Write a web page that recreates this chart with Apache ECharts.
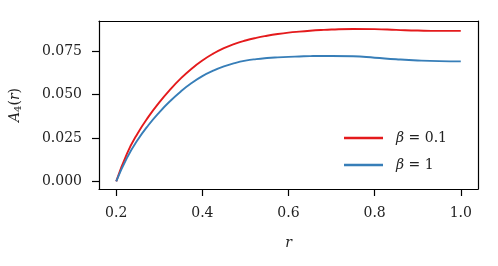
<!DOCTYPE html>
<html>
<head>
<meta charset="utf-8">
<script src="https://cdn.jsdelivr.net/npm/echarts@6/dist/echarts.min.js"></script>
<style>html,body{margin:0;padding:0;background:#fff}#c{width:498px;height:266px}</style>
</head>
<body>
<div id="c"></div>
<script>
const rValues = [0.200,0.225,0.250,0.275,0.300,0.325,0.350,0.375,0.400,0.425,0.450,0.475,0.500,0.525,0.550,0.575,0.600,0.625,0.650,0.675,0.700,0.750,0.800,0.850,0.900,0.950,1.000];
const beta01 = [0.0000,0.0160,0.0277,0.0372,0.0454,0.0527,0.0592,0.0648,0.0695,0.0734,0.0766,0.0791,0.0810,0.0825,0.0837,0.0847,0.0855,0.0861,0.0866,0.0870,0.0873,0.0876,0.0875,0.0871,0.0867,0.0865,0.0865];
const beta1  = [0.0000,0.0135,0.0239,0.0324,0.0397,0.0461,0.0517,0.0565,0.0605,0.0636,0.0661,0.0680,0.0694,0.0703,0.0709,0.0713,0.0716,0.0718,0.0720,0.0721,0.0721,0.0719,0.0711,0.0702,0.0695,0.0691,0.0690];
const xTicks = [0.2,0.4,0.6,0.8,1.0];
const yTicks = [0,0.025,0.05,0.075];
const seriesNames = ['β = 0.1','β = 1'];

const FONT = '"DejaVu Serif", serif';
const TXT = '#222';
const chart = echarts.init(document.getElementById('c'), null, {renderer:'canvas'});
const pair = (xs, ys) => xs.map((x,i)=>[x, ys[i]]);
const spine = {show:true,onZero:false,lineStyle:{color:'#000',width:1.2}};
chart.setOption({
  animation:false,
  grid:{left:98,right:20,top:21,bottom:77},
  legend:{
    orient:'vertical', right:46, top:126, itemWidth:39, itemHeight:2.4, itemGap:13,
    icon:'rect',
    textStyle:{fontFamily:FONT,fontSize:14,color:TXT,
      rich:{b:{fontFamily:FONT,fontStyle:'italic',fontSize:14,color:TXT,padding:[0,0,0,8]},n:{fontFamily:FONT,fontSize:14,color:TXT}}},
    formatter:function(name){ const p=name.split(' = '); return '{b|β} {n|= '+p[1]+'}'; },
    data:seriesNames
  },
  xAxis:[{
    type:'value', min:0.16, max:1.04,
    name:'r', nameLocation:'middle', nameGap:47,
    nameTextStyle:{fontFamily:FONT,fontStyle:'italic',fontSize:14,color:TXT},
    axisLine:spine,
    axisTick:{show:true,length:7,lineStyle:{color:'#000',width:1.2},customValues:xTicks},
    axisLabel:{fontFamily:FONT,fontSize:14,color:TXT,margin:17,customValues:xTicks,formatter:v=>v.toFixed(1)},
    splitLine:{show:false}
  },{
    type:'value', min:0.16, max:1.04, position:'top',
    axisLine:spine, axisTick:{show:false}, axisLabel:{show:false}, splitLine:{show:false}
  }],
  yAxis:[{
    type:'value', min:-0.0044, max:0.0922,
    name:'{a|A}{s|4}{p|(}{a|r}{p|)}', nameLocation:'middle', nameGap:76, nameRotate:90,
    nameTextStyle:{fontFamily:FONT,fontSize:14,color:TXT,
      rich:{a:{fontFamily:FONT,fontStyle:'italic',fontSize:14,color:TXT},
            s:{fontFamily:FONT,fontSize:10,color:TXT,verticalAlign:'bottom',padding:[6,0,0,0]},
            p:{fontFamily:FONT,fontSize:14,color:TXT}}},
    axisLine:spine,
    axisTick:{show:true,length:7,lineStyle:{color:'#000',width:1.2},customValues:yTicks},
    axisLabel:{fontFamily:FONT,fontSize:14,color:TXT,margin:17,customValues:yTicks,formatter:v=>v.toFixed(3)},
    splitLine:{show:false}
  },{
    type:'value', min:-0.0044, max:0.0922, position:'right',
    axisLine:spine, axisTick:{show:false}, axisLabel:{show:false}, splitLine:{show:false}
  }],
  series:[
    {name:seriesNames[0],type:'line',data:pair(rValues,beta01),smooth:0.5,showSymbol:false,symbol:'none',
     lineStyle:{color:'#e41a1c',width:1.9},itemStyle:{color:'#e41a1c'},z:3},
    {name:seriesNames[1],type:'line',data:pair(rValues,beta1),smooth:0.5,showSymbol:false,symbol:'none',
     lineStyle:{color:'#377eb8',width:1.9},itemStyle:{color:'#377eb8'},z:4}
  ]
});
</script>
</body>
</html>
